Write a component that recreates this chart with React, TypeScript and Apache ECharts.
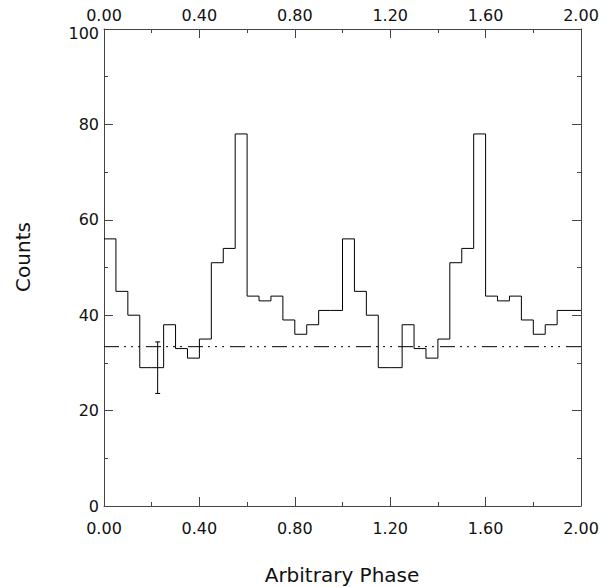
import React, { useEffect, useRef } from "react";
import * as echarts from "echarts";

// Histogram counts per phase bin (bin width 0.05, phase 0 -> 2, two cycles)
const binWidth = 0.05;
const counts = [
  56, 45, 40, 29, 29, 38, 33, 31, 35, 51, 54, 78, 44, 43, 44, 39, 36, 38, 41, 41,
  56, 45, 40, 29, 29, 38, 33, 31, 35, 51, 54, 78, 44, 43, 44, 39, 36, 38, 41, 41,
];
// Background level (dash-dot-dot-dot line)
const backgroundLevel = 33.4;
// Representative error bar
const errPhase = [0.225];
const errCount = [29];
const errSize = [5.4];

const xTicks = { min: 0, max: 2, interval: 0.4 };
const yTicks = { min: 0, max: 100, interval: 20 };

const FONT = "DejaVu Sans";

export default function App() {
  const ref = useRef<HTMLDivElement>(null);
  useEffect(() => {
    if (!ref.current) return;
    const chart = echarts.init(ref.current, undefined, { renderer: "svg" });

    const histData: number[][] = counts.map((c, i) => [i * binWidth, c]);
    histData.push([counts.length * binWidth, counts[counts.length - 1]]);

    const axisLine = { show: true, onZero: false, lineStyle: { color: "#444", width: 1 } };
    const axisTick = { show: true, inside: true, length: 9, lineStyle: { color: "#444", width: 1 } };
    const minorTick = { show: true, splitNumber: 2, length: 4, lineStyle: { color: "#444", width: 1 } };
    const labelStyle = { color: "#111", fontFamily: FONT, fontSize: 16 };

    const xBase = {
      type: "value" as const,
      min: xTicks.min,
      max: xTicks.max,
      interval: xTicks.interval,
      axisLine,
      axisTick,
      minorTick,
      splitLine: { show: false },
      minorSplitLine: { show: false },
    };
    const yBase = {
      type: "value" as const,
      min: yTicks.min,
      max: yTicks.max,
      interval: yTicks.interval,
      axisLine,
      axisTick,
      minorTick,
      splitLine: { show: false },
      minorSplitLine: { show: false },
    };

    chart.setOption({
      animation: false,
      backgroundColor: "#fff",
      grid: { left: 104, top: 29, right: 25, bottom: 81, containLabel: false },
      xAxis: [
        {
          ...xBase,
          position: "bottom",
          axisLabel: { ...labelStyle, margin: 14, formatter: (v: number) => v.toFixed(2) },
        },
        {
          ...xBase,
          position: "top",
          axisLabel: { ...labelStyle, margin: 6, formatter: (v: number) => v.toFixed(2) },
        },
      ],
      yAxis: [
        {
          ...yBase,
          position: "left",
          axisLabel: {
            ...labelStyle,
            margin: 5,
            formatter: (v: number) => (v === yTicks.max ? `{m|${v}}` : `${v}`),
            rich: { m: { color: "#111", fontFamily: FONT, fontSize: 16, padding: [9, 0, 0, 0] } },
          },
        },
        {
          ...yBase,
          position: "right",
          axisLabel: { show: false },
        },
      ],
      graphic: [
        {
          type: "text",
          x: 342,
          y: 575,
          style: {
            text: "Arbitrary Phase",
            fontFamily: FONT,
            fontSize: 20,
            fill: "#111",
            align: "center",
            verticalAlign: "middle",
          },
        },
        {
          type: "text",
          x: 23,
          y: 257,
          rotation: Math.PI / 2,
          style: {
            text: "Counts",
            fontFamily: FONT,
            fontSize: 20,
            fill: "#111",
            align: "center",
            verticalAlign: "middle",
          },
        },
      ],
      series: [
        {
          type: "line",
          step: "end",
          data: histData,
          showSymbol: false,
          symbol: "none",
          lineStyle: { color: "#000", width: 1 },
          silent: true,
        },
        {
          type: "line",
          data: [
            [xTicks.min, backgroundLevel],
            [xTicks.max, backgroundLevel],
          ],
          showSymbol: false,
          symbol: "none",
          lineStyle: { color: "#000", width: 1, type: [15, 5, 2, 5, 2, 5, 2, 6] },
          silent: true,
        },
        {
          type: "custom",
          data: errPhase.map((p, i) => [p, errCount[i], errSize[i]]),
          renderItem: (params: any, api: any) => {
            const x = api.value(0);
            const y = api.value(1);
            const e = api.value(2);
            const top = api.coord([x, y + e]);
            const bot = api.coord([x, y - e]);
            const cap = 2.5;
            const style = { stroke: "#000", lineWidth: 1 };
            return {
              type: "group",
              children: [
                { type: "line", shape: { x1: top[0], y1: top[1], x2: bot[0], y2: bot[1] }, style },
                { type: "line", shape: { x1: top[0] - cap, y1: top[1], x2: top[0] + cap, y2: top[1] }, style },
                { type: "line", shape: { x1: bot[0] - cap, y1: bot[1], x2: bot[0] + cap, y2: bot[1] }, style },
              ],
            };
          },
          silent: true,
        },
      ],
    });

    return () => chart.dispose();
  }, []);

  return <div ref={ref} style={{ width: 606, height: 587, position: "absolute", left: 0, top: 0 }} />;
}
